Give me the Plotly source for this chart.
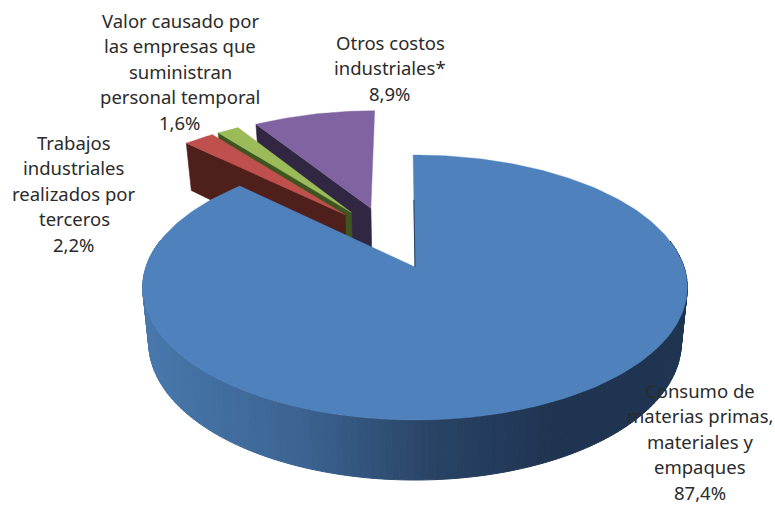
import math
import plotly.graph_objects as go

# ---- data ----
categories = ["Consumo de materias primas, materiales y empaques",
              "Trabajos industriales realizados por terceros",
              "Valor causado por las empresas que suministran personal temporal",
              "Otros costos industriales*"]
values = [87.4, 2.2, 1.6, 8.9]
value_labels = ["87,4%", "2,2%", "1,6%", "8,9%"]

top_colors = ["#4f81bd", "#c0504d", "#9bbb59", "#8064a2"]
wall_colors = [None, "#4f1f1c", "#3f5520", "#322742"]

label_lines = [
    ["Consumo de", "materias primas,", "materiales y", "empaques", "87,4%"],
    ["Trabajos", "industriales", "realizados por", "terceros", "2,2%"],
    ["Valor causado por", "las empresas que", "suministran", "personal temporal", "1,6%"],
    ["Otros costos", "industriales*", "8,9%"],
]
label_cx = [700, 74, 180, 390]
label_y0 = [390, 142, 20, 42]
line_pitch = 25.6

# ---- projection of the tilted pie ----
CX, CY, AX, AY, K = 415, 267, 269, 129.3, -0.155
EXPLODE = 0.26
ROTATION = -0.008
total = sum(values)


def top(u, v):
    d = 1 + K * v
    return CX + AX * u / d, CY + AY * v / d


def bottom(u, v):
    x, y = top(u, v)
    return CX + (x - CX) * 0.978, y + 54 + 6 * v


# slice angle spans, clockwise from 12 o'clock
spans, a = [], ROTATION
for val in values:
    spans.append((a, a + val / total * 2 * math.pi))
    a = spans[-1][1]


def unit(t):
    return math.sin(t), -math.cos(t)


m0 = sum(spans[0]) / 2
cu0, cv0 = -EXPLODE * unit(m0)[0], -EXPLODE * unit(m0)[1]


def center(i):
    m = sum(spans[i]) / 2
    return cu0 + EXPLODE * unit(m)[0], cv0 + EXPLODE * unit(m)[1]


def arc(i, n):
    cu, cv = center(i)
    s, e = spans[i]
    return [(cu + unit(s + (e - s) * j / n)[0], cv + unit(s + (e - s) * j / n)[1]) for j in range(n + 1)]


def wall_color(x):
    stops = [(145, (72, 120, 172)), (300, (60, 100, 146)), (430, (42, 68, 102)), (560, (30, 52, 80)), (700, (30, 52, 80))]
    for (x0, c0), (x1, c1) in zip(stops, stops[1:]):
        if x <= x1:
            t = max(0, (x - x0) / (x1 - x0))
            return "rgb(%d,%d,%d)" % tuple(c0[k] + (c1[k] - c0[k]) * t for k in range(3))
    return "rgb(30,52,80)"


fig = go.Figure()


def poly(pts, color, lw=0.6):
    fig.add_trace(go.Scatter(x=[p[0] for p in pts] + [pts[0][0]], y=[p[1] for p in pts] + [pts[0][1]],
                             mode="lines", fill="toself", fillcolor=color,
                             line=dict(color=color, width=lw), hoverinfo="skip", showlegend=False))


# small slices, back to front, then the big one
for i in [3, 2, 1]:
    cu, cv = center(i)
    edge = arc(i, 40)
    uo, vo = edge[0]
    poly([top(cu, cv), top(uo, vo), bottom(uo, vo), bottom(cu, cv)], wall_colors[i])
    poly([top(cu, cv)] + [top(*p) for p in edge], top_colors[i], 0.4)

edge = arc(0, 240)
for p, q in zip(edge, edge[1:]):
    if p[1] < -0.2 and q[1] < -0.2:  # back of the rim is hidden by the top face
        continue
    xm = (top(*p)[0] + top(*q)[0]) / 2
    c = wall_color(xm)
    poly([top(*p), top(*q), bottom(*q), bottom(*p)], c, 1)
poly([top(0, 0)] + [top(*p) for p in edge], top_colors[0], 0.4)
s = top(*edge[0])
o = top(0, 0)
f = 0.4
fig.add_trace(go.Scatter(x=[s[0] + (o[0] - s[0]) * f, o[0]], y=[s[1] + (o[1] - s[1]) * f, o[1]], mode="lines",
                         line=dict(color="#24405f", width=1), hoverinfo="skip", showlegend=False))

ann = []
for lines, xc, y0 in zip(label_lines, label_cx, label_y0):
    for n, t in enumerate(lines):
        ann.append(dict(x=xc, y=y0 + n * line_pitch, text=t, showarrow=False, xanchor="center", yanchor="middle",
                        font=dict(family="Noto Sans", size=18.5, color="#2b2b2b")))

fig.update_layout(width=775, height=506, margin=dict(l=0, r=0, t=0, b=0), paper_bgcolor="white",
                  plot_bgcolor="white", autosize=False, annotations=ann,
                  xaxis=dict(range=[0, 775], visible=False, fixedrange=True),
                  yaxis=dict(range=[506, 0], visible=False, fixedrange=True))
fig.write_html("out.html", config={"displayModeBar": False},
               post_script="document.body.style.margin='0';document.documentElement.style.overflow='hidden';")
